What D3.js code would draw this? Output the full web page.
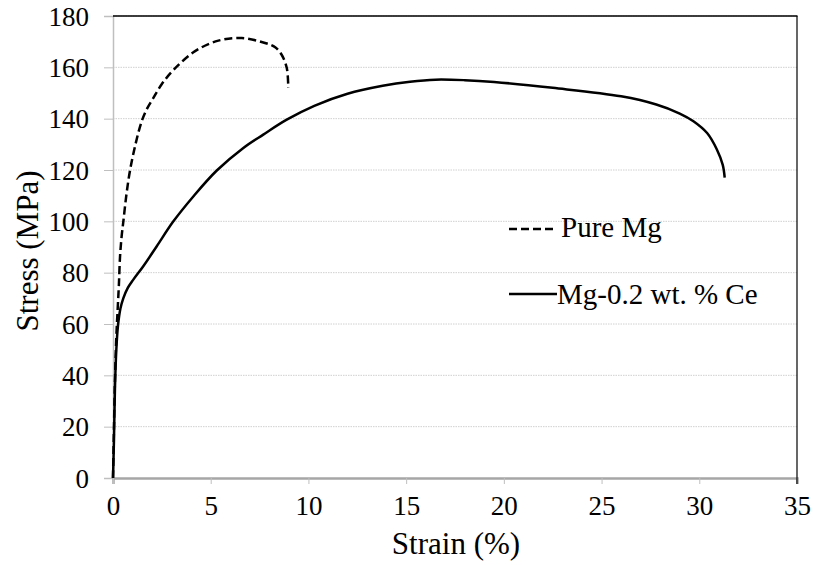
<!DOCTYPE html>
<html><head><meta charset="utf-8">
<script src="https://cdn.jsdelivr.net/npm/d3@7"></script>
<style>
body{margin:0;background:#fff}
#c text{font-family:'Liberation Serif' !important}
</style>
</head><body>
<svg id="c" width="814" height="565" font-family="Liberation Serif"></svg>
<script>
const xTicks = [0,5,10,15,20,25,30,35];
const yTicks = [0,20,40,60,80,100,120,140,160,180];
const seriesNames = ["Pure Mg","Mg-0.2 wt. % Ce"];
const pureMgStrain = [0,0.05,0.1,0.17,0.24,0.3,0.36,0.44,0.53,0.68,0.87,1.15,1.47,1.75,2.06,2.5,3.1,4.2,5.39,6.59,7.78,8.3,8.63,8.89,8.97];
const pureMgStress = [0,20,38,55,66,75,86.3,94,100,110,119.8,130,139,144,148,153.5,159,166.3,170.4,171.4,169.5,167.8,164.9,159.8,152];
const ceStrain = [0,0.05,0.1,0.17,0.25,0.38,0.53,0.75,1.04,1.55,2.24,3.09,4.11,5.31,6.67,7.69,8.89,10.3,12.0,13.8,15.2,16.5,18,19.5,22.5,26,27.8,29.0,29.7,30.4,30.9,31.2,31.3];
const ceStress = [0,15,35,50,59,66,70.1,74,77.3,82.5,90.3,100,109.7,119.8,128.6,133.8,139.6,145,149.7,152.8,154.4,155.2,155,154.3,152,148.7,145.5,142,139,134.4,128,122,117];

const FONT = 'Liberation Serif';
const svg = d3.select("#c");
const L=113,R=797,T=16,B=478;
const x = d3.scaleLinear().domain([0,35]).range([L,R]);
const y = d3.scaleLinear().domain([0,180]).range([B,T]);

// gridlines
svg.append("g").selectAll("line").data(yTicks.filter(d=>d>0)).join("line")
  .attr("x1",L).attr("x2",R).attr("y1",d=>y(d)).attr("y2",d=>y(d))
  .attr("stroke","#d0d0d0").attr("stroke-width",1).attr("stroke-dasharray","1.5,1");

// y axis
const yAxis = svg.append("g").attr("transform",`translate(${L},0)`)
  .call(d3.axisLeft(y).tickValues(yTicks).tickSize(9).tickPadding(15).tickFormat(d3.format("d")));
yAxis.attr("font-family",FONT).attr("font-size",27);
yAxis.select(".domain").attr("stroke","#bfbfbf").attr("stroke-width",1.5);
yAxis.selectAll(".tick line").attr("stroke","#bfbfbf");
yAxis.selectAll("text").attr("font-family",FONT).style("font-family",FONT).attr("font-size",27).attr("fill","#000").attr("dy","0.34em");

// x axis
const xAxis = svg.append("g").attr("transform",`translate(0,${B})`)
  .call(d3.axisBottom(x).tickValues(xTicks).tickSize(6).tickPadding(12).tickFormat(d3.format("d")));
xAxis.attr("font-family",FONT).attr("font-size",27);
xAxis.select(".domain").attr("stroke","#a6a6a6").attr("stroke-width",2.5);
xAxis.selectAll(".tick line").attr("stroke","#bfbfbf");
xAxis.selectAll("text").attr("font-family",FONT).style("font-family",FONT).attr("font-size",27).attr("fill","#000");

// top & right border
svg.append("line").attr("x1",L).attr("x2",R+0.5).attr("y1",T).attr("y2",T).attr("stroke","#000").attr("stroke-width",1.5);
svg.append("line").attr("x1",R).attr("x2",R).attr("y1",T).attr("y2",B+6).attr("stroke","#000").attr("stroke-width",1.2);

const lineX = d3.line().x(d=>x(d[0])).y(d=>y(d[1])).curve(d3.curveCatmullRom.alpha(0.5));
const ceData = ceStrain.map((s,i)=>[s,ceStress[i]]);
const mgData = pureMgStrain.map((s,i)=>[s,pureMgStress[i]]);

svg.append("path").attr("d",lineX(ceData)).attr("fill","none").attr("stroke","#000").attr("stroke-width",2.5);
svg.append("path").attr("d",lineX(mgData)).attr("fill","none").attr("stroke","#000").attr("stroke-width",2.5).attr("stroke-dasharray","8,4");

// legend
svg.append("line").attr("x1",509).attr("x2",557).attr("y1",229).attr("y2",229).attr("stroke","#000").attr("stroke-width",2.5).attr("stroke-dasharray","8,4");
svg.append("text").attr("x",561).attr("y",237).attr("font-family",FONT).style("font-family",FONT).attr("font-size",29).text(seriesNames[0]);
svg.append("line").attr("x1",509).attr("x2",557).attr("y1",294).attr("y2",294).attr("stroke","#000").attr("stroke-width",2.5);
svg.append("text").attr("x",557).attr("y",304).attr("font-family",FONT).style("font-family",FONT).attr("font-size",29).text(seriesNames[1]);

// axis titles
svg.append("text").attr("x",456).attr("y",554).attr("text-anchor","middle").attr("font-family",FONT).style("font-family",FONT).attr("font-size",31).text("Strain (%)");
svg.append("text").attr("transform","translate(38,251) rotate(-90)").attr("text-anchor","middle").attr("font-family",FONT).style("font-family",FONT).attr("font-size",31).text("Stress (MPa)");
</script>
</body></html>
